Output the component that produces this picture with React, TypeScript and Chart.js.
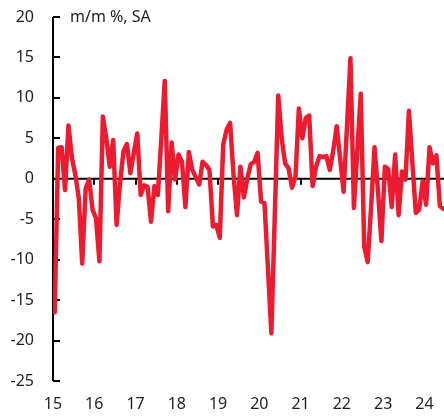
import React, { useEffect, useRef } from "react";
import { Chart, registerables } from "chart.js";

Chart.register(...registerables);

// Monthly % change, seasonally adjusted, Jan 2015 .. Jun 2024
const startYear = 15;
const momValues: number[] = [
  -16.5, 3.8, 3.9, -1.4, 6.6, 2.6, 0.5, -2.4, -10.5, -1.2, -0.1, -3.8, // 2015
  -4.9, -10.2, 7.7, 5.0, 1.5, 4.8, -5.7, -0.5, 3.4, 4.3, 0.7, 3.2, // 2016
  5.6, -2.0, -0.8, -1.0, -5.3, -0.9, -2.0, 5.0, 12.1, -4.0, 4.5, -0.1, // 2017
  3.0, 2.1, -3.5, 3.3, 1.1, 0.2, -0.7, 2.1, 1.7, 1.1, -5.9, -5.7, // 2018
  -7.3, 4.2, 6.1, 6.9, 0.5, -4.5, 1.5, -2.3, 0.0, 1.8, 2.1, 3.2, // 2019
  -2.8, -3.0, -11.0, -19.1, -4.5, 10.3, 5.0, 1.9, 1.3, -1.1, 0.2, 8.7, // 2020
  5.0, 7.5, 7.8, -0.9, 1.5, 2.8, 2.7, 2.8, 1.1, 3.5, 6.5, 2.5, // 2021
  -1.6, 6.5, 14.9, -3.6, 3.5, 10.5, -8.4, -10.3, -3.5, 3.9, -1.5, -7.7, // 2022
  1.5, 1.2, -3.5, 3.0, -4.5, 0.9, -0.1, 8.4, 2.0, -4.2, -3.8, -0.3, // 2023
  -3.2, 3.9, 1.9, 2.9, -3.4, -3.7, // 2024
];
const yearTickMonths: number[] = [0, 12, 24, 36, 48, 60, 72, 84, 96, 108];
const yTickValues: number[] = [-25, -20, -15, -10, -5, 0, 5, 10, 15, 20];
const unitLabel = "m/m %, SA";

const FONT = '"Noto Sans", "Open Sans", sans-serif';
const TEXT = "#1e1e1e";
const RED = "#ED1B2F";

const axesPlugin = {
  id: "customAxes",
  beforeDatasetsDraw(chart: any) {
    const { ctx, chartArea, scales } = chart;
    const x = scales.x;
    const y = scales.y;
    const y0 = y.getPixelForValue(0);
    ctx.save();
    ctx.strokeStyle = "#000";
    ctx.lineWidth = 2;
    ctx.beginPath();
    ctx.moveTo(chartArea.left, y0);
    ctx.lineTo(chartArea.right, y0);
    yearTickMonths.forEach((m) => {
      if (m === 0) return;
      const px = Math.round(x.getPixelForValue(m));
      ctx.moveTo(px, y0);
      ctx.lineTo(px, y0 + 6);
    });
    ctx.moveTo(chartArea.left, chartArea.top);
    ctx.lineTo(chartArea.left, chartArea.bottom);
    yTickValues.forEach((v) => {
      const py = Math.round(y.getPixelForValue(v));
      ctx.moveTo(chartArea.left, py);
      ctx.lineTo(chartArea.left + 7, py);
    });
    ctx.stroke();
    ctx.fillStyle = TEXT;
    ctx.font = `16px ${FONT}`;
    ctx.textBaseline = "middle";
    ctx.textAlign = "left";
    ctx.fillText(unitLabel, chartArea.left + 17, chartArea.top);
    ctx.restore();
  },
};

export default function App() {
  const canvasRef = useRef<HTMLCanvasElement | null>(null);

  useEffect(() => {
    if (!canvasRef.current) return;
    const points = momValues.map((v, i) => ({ x: i + 0.5, y: v }));
    const chart = new Chart(canvasRef.current, {
      type: "line",
      data: {
        datasets: [
          {
            data: points,
            borderColor: RED,
            borderWidth: 4.5,
            pointRadius: 0,
            tension: 0,
            borderJoinStyle: "round",
            borderCapStyle: "round",
            fill: false,
          },
        ],
      },
      options: {
        animation: false,
        responsive: false,
        layout: { padding: { top: 17, right: 0, left: 0, bottom: 0 } },
        plugins: {
          legend: { display: false },
          tooltip: { enabled: false },
        },
        scales: {
          x: {
            type: "linear",
            min: 0,
            max: 113.7,
            grid: { display: false, drawTicks: false },
            border: { display: false },
            afterBuildTicks: (scale: any) => {
              scale.ticks = yearTickMonths.map((v) => ({ value: v }));
            },
            afterFit: (scale: any) => {
              scale.height = 37;
              scale.paddingLeft = 0;
              scale.paddingRight = 0;
            },
            ticks: {
              padding: 14,
              color: TEXT,
              font: { family: FONT, size: 16 },
              maxRotation: 0,
              autoSkip: false,
              callback: (v: any) => String(startYear + Number(v) / 12),
            },
          },
          y: {
            min: -25,
            max: 20,
            grid: { display: false, drawTicks: false },
            border: { display: false },
            afterFit: (scale: any) => {
              scale.width = 53;
              scale.paddingTop = 0;
              scale.paddingBottom = 0;
            },
            ticks: {
              stepSize: 5,
              padding: 19,
              color: TEXT,
              font: { family: FONT, size: 16 },
            },
          },
        },
      },
      plugins: [axesPlugin],
    } as any);
    return () => chart.destroy();
  }, []);

  return (
    <div style={{ position: "fixed", left: 0, top: 0, width: 444, height: 418, background: "#fff" }}>
      <canvas ref={canvasRef} width={444} height={418} style={{ display: "block" }} />
    </div>
  );
}
